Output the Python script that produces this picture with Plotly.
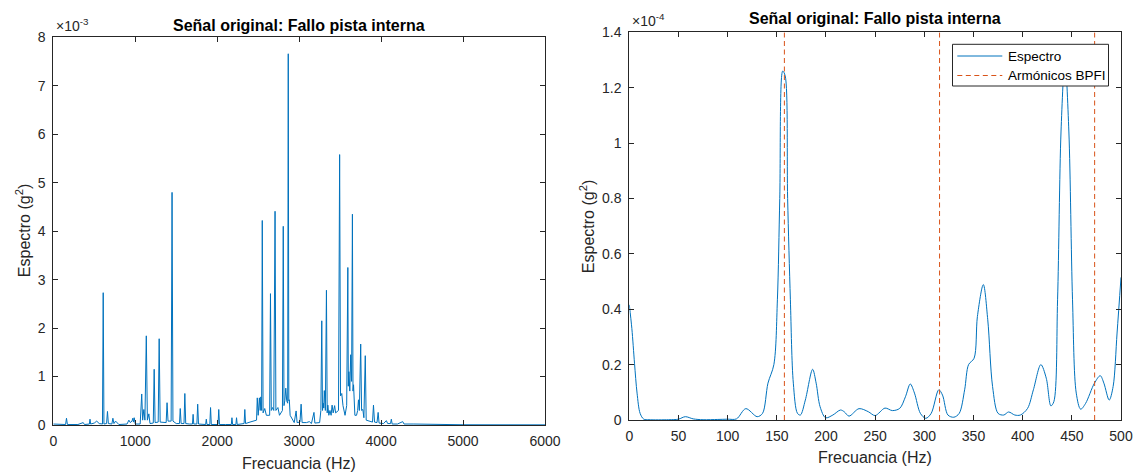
import numpy as np
import plotly.graph_objects as go

W, H = 1142, 474

# ---------------- Data ----------------
# Left: full spectrum (freq in Hz, value in units of 1e-3 g^2)
left_freq = [0, 100, 150, 161, 172, 300, 365, 380, 440, 448, 456, 500, 530, 560, 600, 609, 618,
             650, 661, 672, 715, 727, 740, 760, 800, 900, 922, 940, 960, 970, 978, 987, 1000,
             1060, 1079, 1090, 1105, 1118, 1135, 1148, 1166, 1180, 1220, 1231, 1242, 1280, 1292,
             1304, 1340, 1377, 1388, 1400, 1438, 1449, 1460, 1500, 1540, 1549, 1560, 1595, 1605,
             1616, 1660, 1698, 1706, 1714, 1752, 1762, 1772, 1820, 1859, 1867, 1875, 1910, 1919,
             1928, 2010, 2019, 2028, 2100, 2172, 2180, 2188, 2228, 2236, 2244, 2300, 2328, 2337,
             2346, 2400, 2460, 2480, 2489, 2500, 2515, 2525, 2532, 2542, 2550, 2560, 2580, 2600,
             2640, 2650, 2660, 2676, 2690, 2706, 2716, 2741, 2760, 2796, 2806, 2815, 2825, 2837,
             2848, 2860, 2867, 2874, 2880, 2890, 2940, 2963, 2975, 3010, 3024, 3036, 3090, 3124,
             3150, 3181, 3192, 3250, 3265, 3276, 3285, 3294, 3300, 3307, 3320, 3333, 3342, 3350,
             3362, 3376, 3390, 3402, 3415, 3433, 3445, 3480, 3494, 3505, 3520, 3535, 3560, 3580,
             3594, 3600, 3607, 3618, 3629, 3640, 3650, 3657, 3664, 3680, 3700, 3714, 3724, 3735,
             3751, 3762, 3777, 3790, 3807, 3818, 3860, 3895, 3907, 3920, 3950, 3964, 3975, 4030,
             4064, 4080, 4115, 4125, 4135, 4200, 4264, 4280, 4400, 4600, 5000, 6000]
left_val_e3 = [0.02, 0.01, 0.01, 0.14, 0.01, 0.01, 0.05, 0.01, 0.02, 0.12, 0.02, 0.04, 0.08, 0.03, 0.02, 2.73, 0.02,
               0.03, 0.28, 0.03, 0.02, 0.14, 0.03, 0.08, 0.01, 0.02, 0.10, 0.05, 0.08, 0.14, 0.06, 0.15, 0.02,
               0.02, 0.64, 0.10, 0.32, 0.10, 1.84, 0.10, 0.23, 0.03, 0.04, 1.15, 0.05, 0.06, 1.78,
               0.06, 0.05, 0.05, 0.46, 0.08, 0.08, 4.80, 0.08, 0.03, 0.03, 0.34, 0.03, 0.03, 0.65,
               0.03, 0.02, 0.02, 0.22, 0.02, 0.02, 0.43, 0.02, 0.01, 0.01, 0.12, 0.01, 0.01, 0.36,
               0.01, 0.01, 0.32, 0.01, 0.01, 0.01, 0.15, 0.01, 0.01, 0.15, 0.01, 0.03, 0.03, 0.32,
               0.03, 0.06, 0.08, 0.10, 0.56, 0.20, 0.56, 0.30, 0.58, 0.30, 4.22, 0.25, 0.34, 0.20,
               0.20, 2.71, 0.30, 0.36, 0.30, 4.41, 0.30, 0.36, 0.20, 0.30, 4.10, 0.40, 0.50, 0.76,
               0.50, 0.45, 7.66, 0.50, 0.52, 0.20, 0.05, 0.29, 0.05, 0.06, 0.43, 0.05, 0.05, 0.07,
               0.03, 0.26, 0.04, 0.05, 0.30, 2.15, 0.30, 0.45, 0.35, 0.71, 0.30, 2.78, 0.25, 0.41,
               0.20, 0.30, 0.20, 0.41, 0.25, 0.40, 0.25, 0.30, 5.58, 0.60, 0.65, 0.40, 0.20, 0.40,
               3.25, 0.80, 1.10, 0.70, 1.45, 0.90, 4.35, 0.70, 0.83, 0.20, 0.20, 0.30, 0.52, 0.30,
               1.67, 0.30, 0.32, 0.15, 1.43, 0.10, 0.08, 0.06, 0.41, 0.06, 0.05, 0.26, 0.04, 0.03,
               0.09, 0.03, 0.03, 0.12, 0.02, 0.02, 0.07, 0.02, 0.02, 0.01, 0.005, 0.003]

# Right: envelope spectrum 0-500 Hz (value in units of 1e-4 g^2)
right_freq = [0, 2.6, 5.3, 7.9, 11, 14.7, 20, 40, 50, 57, 65, 75, 90, 100, 109, 118.5, 130, 135.5,
              141, 147, 150.6, 153, 156, 158.5, 161, 163.8, 166.8, 171, 174, 179, 186.4, 190, 194,
              199.6, 207, 214.7, 218.5, 223.4, 233.6, 243, 250, 260, 267.5, 275, 280.8, 285.7, 290,
              296, 301.5, 307, 314.7, 318.5, 324, 330, 335.5, 341, 345, 350.6, 354, 360, 364.5,
              369.4, 375, 380.8, 385.7, 392, 397.7, 405, 410.9, 418.5, 424, 428.7, 431.7, 435.5,
              439, 443, 447, 450.7, 454.5, 459, 464, 473, 478.9, 482.6, 488, 492, 496, 500]
right_val_e4 = [0.416, 0.33, 0.205, 0.097, 0.024, 0.003, 0.001, 0.001, 0.003, 0.012, 0.004, 0.001, 0.002, 0.003, 0.004, 0.041, 0.012, 0.024,
                0.133, 0.20, 0.434, 0.80, 1.26, 1.243, 0.80, 0.434, 0.133, 0.024, 0.018, 0.072, 0.183, 0.133, 0.048,
                0.008, 0.018, 0.036, 0.030, 0.014, 0.041, 0.030, 0.016, 0.043, 0.034, 0.042, 0.084, 0.130, 0.097,
                0.024, 0.006, 0.024, 0.109, 0.090, 0.018, 0.010, 0.024, 0.109, 0.20, 0.223, 0.374, 0.489, 0.362,
                0.121, 0.024, 0.018, 0.029, 0.018, 0.018, 0.042, 0.109, 0.20, 0.151, 0.051, 0.066, 0.434,
                1.04, 1.30, 1.04, 0.434, 0.097, 0.039, 0.060, 0.133, 0.160, 0.133, 0.072, 0.121, 0.314, 0.515]

bpfi_harmonics = [157.7, 315.5, 473.2]   # Hz

left_xticks = [0, 1000, 2000, 3000, 4000, 5000, 6000]
left_yticks_e3 = [0, 1, 2, 3, 4, 5, 6, 7, 8]
right_xticks = [0, 50, 100, 150, 200, 250, 300, 350, 400, 450, 500]
right_yticks_e4 = [0, 0.2, 0.4, 0.6, 0.8, 1, 1.2, 1.4]

title_text = "Señal original: Fallo pista interna"
xlabel_text = "Frecuancia (Hz)"
ylabel_text = "Espectro (g<sup>2</sup>)"
legend_names = ["Espectro", "Armónicos BPFI"]

# ---------------- Layout helpers ----------------
def px_x(p):
    return p / W

def px_y(p):
    return 1 - p / H

AX1 = dict(l=53.3, r=545, t=37.3, b=425)
AX2 = dict(l=629.3, r=1121, t=32.3, b=420)
LEG = dict(l=952.5, r=1108.5, t=44.3, b=86, line_x0=957.3, line_x1=1002.3, text_x=1005.5,
           rows=[56, 75.5])

FONT = "Liberation Sans, Arial, Helvetica, sans-serif"
TXT = "#262626"
BLUE = "#0072BD"
ORANGE = "#D95319"
TICK_SIZE = 14
LABEL_SIZE = 16
LEG_SIZE = 13.5
DASH = "5px,3.5px"

left_y = np.array(left_val_e3) * 1e-3
right_y = np.array(right_val_e4) * 1e-4
right_ymax = right_yticks_e4[-1] * 1e-4

fig = go.Figure()
fig.add_trace(go.Scatter(x=left_freq, y=left_y, mode="lines", name="Espectro",
                         line=dict(color=BLUE, width=1), showlegend=False,
                         xaxis="x", yaxis="y"))
fig.add_trace(go.Scatter(x=right_freq, y=right_y, mode="lines", name=legend_names[0],
                         line=dict(color=BLUE, width=1, shape="spline", smoothing=0.9),
                         showlegend=False, xaxis="x2", yaxis="y2"))
hx, hy = [], []
for h in bpfi_harmonics:
    hx += [h, h, None]
    hy += [0, right_ymax, None]
fig.add_trace(go.Scatter(x=hx, y=hy, mode="lines", name=legend_names[1],
                         line=dict(color=ORANGE, width=1, dash=DASH),
                         showlegend=False, xaxis="x2", yaxis="y2"))

axis_common = dict(showline=True, linecolor=TXT, linewidth=1, mirror="ticks",
                   ticks="inside", ticklen=5, tickcolor=TXT, tickwidth=1,
                   showgrid=False, zeroline=False, automargin=False,
                   tickfont=dict(family=FONT, size=TICK_SIZE, color=TXT))

fig.update_layout(
    width=W, height=H, autosize=False,
    margin=dict(l=0, r=0, t=0, b=0, pad=0),
    paper_bgcolor="white", plot_bgcolor="white",
    font=dict(family=FONT, color=TXT),
    showlegend=False,
    xaxis=dict(domain=[px_x(AX1["l"]), px_x(AX1["r"])], range=[0, 6000],
               tickvals=left_xticks, ticktext=[str(v) for v in left_xticks],
               anchor="y", ticklabelstandoff=3, **axis_common),
    yaxis=dict(domain=[px_y(AX1["b"]), px_y(AX1["t"])], range=[0, 8e-3],
               tickvals=[v * 1e-3 for v in left_yticks_e3],
               ticktext=[str(v) for v in left_yticks_e3],
               anchor="x", ticklabelstandoff=4, **axis_common),
    xaxis2=dict(domain=[px_x(AX2["l"]), px_x(AX2["r"])], range=[0, 500],
                tickvals=right_xticks, ticktext=[str(v) for v in right_xticks],
                anchor="y2", ticklabelstandoff=3, **axis_common),
    yaxis2=dict(domain=[px_y(AX2["b"]), px_y(AX2["t"])], range=[0, right_ymax],
                tickvals=[v * 1e-4 for v in right_yticks_e4],
                ticktext=[f"{v:g}" for v in right_yticks_e4],
                anchor="x2", ticklabelstandoff=4, **axis_common),
)

ann = []
for ax, ty, xy, yx, expo in [(AX1, 25, 463, 23, "-3"), (AX2, 19, 457, 587, "-4")]:
    cx = (ax["l"] + ax["r"]) / 2
    cy = (ax["t"] + ax["b"]) / 2
    ann.append(dict(text=f"<b>{title_text}</b>", x=px_x(cx), y=px_y(ty), xref="paper", yref="paper",
                    xanchor="center", yanchor="middle", showarrow=False,
                    font=dict(family=FONT, size=LABEL_SIZE, color="black")))
    ann.append(dict(text=xlabel_text, x=px_x(cx), y=px_y(xy), xref="paper", yref="paper",
                    xanchor="center", yanchor="middle", showarrow=False,
                    font=dict(family=FONT, size=LABEL_SIZE, color=TXT)))
    ann.append(dict(text=ylabel_text, x=px_x(yx), y=px_y(cy), xref="paper", yref="paper",
                    xanchor="center", yanchor="middle", showarrow=False, textangle=-90,
                    font=dict(family=FONT, size=LABEL_SIZE, color=TXT)))
    ann.append(dict(text=f"×10<sup>{expo}</sup>", x=px_x(ax["l"] + 0.5), y=px_y(ax["t"] - 1),
                    xref="paper", yref="paper", xanchor="left", yanchor="bottom",
                    showarrow=False,
                    font=dict(family=FONT, size=TICK_SIZE, color=TXT)))

# legend (drawn manually to match the reference box)
shapes = [dict(type="rect", xref="paper", yref="paper",
               x0=px_x(LEG["l"]), x1=px_x(LEG["r"]), y0=px_y(LEG["b"]), y1=px_y(LEG["t"]),
               line=dict(color=TXT, width=1), fillcolor="white", layer="above")]
leg_styles = [dict(color=BLUE, width=1), dict(color=ORANGE, width=1, dash=DASH)]
for name, row, st in zip(legend_names, LEG["rows"], leg_styles):
    shapes.append(dict(type="line", xref="paper", yref="paper",
                       x0=px_x(LEG["line_x0"]), x1=px_x(LEG["line_x1"]),
                       y0=px_y(row), y1=px_y(row), line=st, layer="above"))
    ann.append(dict(text=name, x=px_x(LEG["text_x"]), y=px_y(row), xref="paper", yref="paper",
                    xanchor="left", yanchor="middle", showarrow=False,
                    font=dict(family=FONT, size=LEG_SIZE, color="black")))

fig.update_layout(annotations=ann, shapes=shapes)

fig.write_html("out.html",
               post_script="document.body.style.margin='0';document.body.style.overflow='hidden';")
